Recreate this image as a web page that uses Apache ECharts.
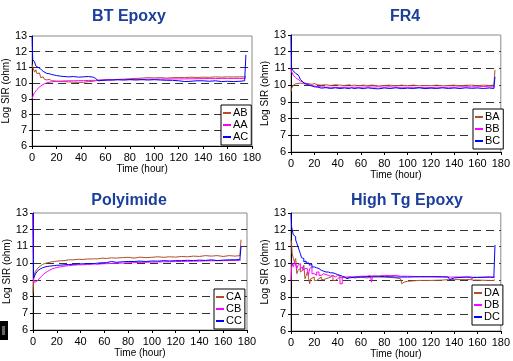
<!DOCTYPE html>
<html><head><meta charset="utf-8">
<script src="https://cdn.jsdelivr.net/npm/echarts@6/dist/echarts.min.js"></script>
<style>html,body{margin:0;padding:0;background:#fff}#c{width:513px;height:361px}</style>
</head><body><div id="c"></div>
<script>
// ---------- data ----------
const panelTitles = ['BT Epoxy', 'FR4', 'Polyimide', 'High Tg Epoxy'];
const xAxisName = 'Time (hour)';
const yAxisName = 'Log SIR (ohm)';
const xMin = 0, xMax = 180, xStep = 20;
const yMin = 6, yMax = 13, yStep = 1;

const hoursABC = [0,0.5,1,2,3,4,5,6,7,8,9,10,12,14,16,18,20,23,26,30,34,38,42,46,50,52,54,58,62,66,70,75,80,85,90,95,100,105,110,115,120,125,130,135,140,145,150,155,160,165,170,174,175];

// BT Epoxy
const AB = [11.2,11.0,10.9,10.7,10.85,10.6,10.5,10.65,10.35,10.3,10.4,10.25,10.2,10.25,10.15,10.15,10.12,10.1,10.1,10.08,10.06,10.05,10.05,10.1,10.12,10.15,10.18,10.2,10.22,10.22,10.24,10.25,10.28,10.3,10.32,10.35,10.33,10.35,10.32,10.35,10.36,10.35,10.38,10.36,10.38,10.37,10.4,10.38,10.4,10.39,10.4,10.4,10.45];
const AA = [9.0,9.1,9.25,9.4,9.5,9.6,9.68,9.75,9.82,9.87,9.92,9.96,10.02,10.06,10.08,10.1,10.12,10.13,10.14,10.15,10.15,10.16,10.16,10.17,10.18,10.18,10.19,10.2,10.2,10.21,10.22,10.22,10.23,10.24,10.24,10.25,10.25,10.26,10.26,10.27,10.27,10.27,10.28,10.28,10.29,10.29,10.29,10.3,10.3,10.3,10.3,10.3,10.35];
const AC = [13.0,11.5,11.4,11.35,11.1,11.05,11.0,10.95,10.9,10.85,10.75,10.65,10.62,10.6,10.55,10.52,10.48,10.45,10.42,10.4,10.42,10.38,10.4,10.42,10.38,10.3,10.15,10.18,10.2,10.2,10.22,10.2,10.22,10.2,10.22,10.2,10.22,10.2,10.18,10.18,10.15,10.1,10.12,10.15,10.15,10.12,10.15,10.1,10.12,10.1,10.12,10.15,11.8];

// FR4
const BA = [9.6,9.8,9.9,10.0,10.05,10.08,10.1,10.1,10.12,10.12,10.1,10.1,10.08,10.1,10.08,10.05,10.1,10.02,10.0,10.02,9.98,10.02,10.0,9.98,10.02,9.98,10.0,9.97,10.0,9.98,10.0,9.95,9.98,10.0,9.96,10.0,9.97,10.0,9.96,9.98,9.97,10.0,9.96,9.98,10.0,9.97,9.99,10.0,9.97,10.0,9.98,10.0,10.9];
const BB = [11.0,10.8,10.7,10.6,10.5,10.45,10.4,10.35,10.3,10.25,10.2,10.18,10.12,10.08,10.02,9.98,9.95,9.92,9.9,9.88,9.87,9.87,9.86,9.88,9.87,9.88,9.88,9.87,9.88,9.9,9.88,9.9,9.88,9.9,9.88,9.87,9.88,9.87,9.86,9.87,9.86,9.88,9.87,9.88,9.88,9.9,9.9,9.9,9.9,9.92,9.9,9.9,9.9];
const BC = [13.0,11.0,10.95,10.85,10.75,10.7,10.6,10.62,10.5,10.35,10.25,10.2,10.08,10.05,9.98,9.95,9.9,9.88,9.82,9.85,9.8,9.84,9.8,9.83,9.79,9.84,9.8,9.83,9.79,9.84,9.8,9.78,9.83,9.8,9.84,9.79,9.82,9.8,9.84,9.79,9.82,9.8,9.84,9.8,9.83,9.8,9.84,9.81,9.83,9.8,9.83,9.8,10.5];

// Polyimide
const CA = [8.2,9.0,9.3,9.5,9.6,9.7,9.78,9.82,9.88,9.92,9.95,9.98,10.02,10.05,10.08,10.1,10.12,10.14,10.15,10.2,10.2,10.23,10.22,10.25,10.25,10.26,10.25,10.3,10.28,10.32,10.3,10.33,10.35,10.3,10.36,10.33,10.35,10.38,10.35,10.38,10.36,10.4,10.38,10.42,10.4,10.45,10.42,10.45,10.4,10.45,10.42,10.45,11.4];
const CB = [13.0,9.0,8.85,8.8,8.9,9.0,9.05,9.1,9.2,9.28,9.35,9.4,9.5,9.58,9.65,9.7,9.74,9.78,9.82,9.85,9.88,9.9,9.9,9.92,9.93,9.95,9.93,9.96,9.97,9.98,10.0,10.0,10.02,10.03,10.05,10.05,10.06,10.07,10.08,10.08,10.1,10.1,10.11,10.12,10.12,10.14,10.14,10.15,10.15,10.16,10.16,10.17,10.2];
const CC = [13.0,9.1,9.2,9.35,9.45,9.55,9.6,9.65,9.7,9.72,9.75,9.77,9.8,9.82,9.84,9.85,9.87,9.88,9.9,9.92,9.93,9.95,9.96,9.97,9.98,9.98,10.0,10.02,10.03,10.1,10.05,10.08,10.1,10.1,10.12,10.1,10.13,10.12,10.15,10.13,10.15,10.15,10.17,10.15,10.18,10.16,10.2,10.15,10.18,10.2,10.2,10.22,11.0];

// High Tg Epoxy
const hoursD = [0,0.5,1,2,3,4,5,6,7,8,9,10,11,12,13,14,15,16,17,18,20,22,24,26,28,30,32,34,36,38,40,42,44,46,48,50,55,60,65,68,69,70,75,80,85,90,94,95,96,97,100,110,120,130,135,136,137,140,150,154,155,156,160,170,174,175];
const DA = [11.4,11.2,10.6,10.3,10.1,10.3,9.4,9.6,9.7,9.5,9.6,9.5,9.9,9.1,9.3,9.5,9.2,8.8,9.1,9.2,9.0,9.1,9.2,9.05,9.1,9.15,9.2,9.3,9.0,9.1,9.2,9.15,9.2,9.15,9.2,9.15,9.2,9.15,9.18,9.2,9.2,9.2,9.2,9.18,9.15,9.1,9.05,8.8,8.9,8.95,9.0,9.0,9.02,9.05,9.05,9.05,9.05,9.05,9.05,9.0,9.02,9.02,9.0,9.0,9.0,9.05];
const DB = [9.0,9.8,10.0,9.8,10.1,9.9,9.7,9.9,10.0,9.7,9.8,9.6,9.7,9.8,9.7,9.8,9.3,9.7,9.8,9.4,9.3,9.5,9.3,9.4,9.35,9.3,9.25,9.3,9.2,9.3,9.25,8.8,9.2,9.2,9.22,9.2,9.25,9.25,9.28,9.25,8.9,9.25,9.3,9.28,9.3,9.25,9.28,9.25,9.25,9.25,9.22,9.22,9.2,9.2,9.2,9.2,9.2,9.2,9.18,9.18,9.05,9.18,9.2,9.2,9.2,9.2];
const DC = [13.0,12.2,12.0,11.7,11.6,11.4,11.2,11.0,10.8,10.6,10.35,10.3,10.1,10.15,10.0,10.05,9.95,9.9,9.95,9.8,9.75,9.7,9.6,9.55,9.5,9.5,9.45,9.45,9.4,9.35,9.3,9.25,9.2,9.1,9.15,9.2,9.2,9.22,9.25,9.25,9.25,9.25,9.22,9.22,9.2,9.2,9.2,9.2,9.2,9.2,9.22,9.22,9.22,9.2,9.15,9.05,9.15,9.2,9.2,9.18,9.18,9.18,9.2,9.18,9.15,11.1];

const panelSeries = [
  {hours: hoursABC, names: ['AB','AA','AC'], values: [AB, AA, AC]},
  {hours: hoursABC, names: ['BA','BB','BC'], values: [BA, BB, BC]},
  {hours: hoursABC, names: ['CA','CB','CC'], values: [CA, CB, CC]},
  {hours: hoursD,   names: ['DA','DB','DC'], values: [DA, DB, DC]}
];
const seriesColors = ['#B0502A', '#FF00FF', '#0000FF'];

// ---------- layout ----------
const FONT = 'Liberation Sans, Arial, sans-serif';
const layout = [
  {grid:{left:31, top:36, width:221, height:110}, title:{x:124, y:4},  legend:{left:221, top:105}},
  {grid:{left:291, top:35, width:212, height:117}, title:{x:400, y:4}, legend:{left:473, top:109}},
  {grid:{left:33, top:213, width:214, height:117}, title:{x:124, y:188}, legend:{left:214, top:289}},
  {grid:{left:291, top:213, width:212, height:118}, title:{x:402, y:188}, legend:{left:472, top:285}}
];

const grids = [], xAxes = [], yAxes = [], titles = [], legends = [], series = [];
layout.forEach((L, i) => {
  grids.push(Object.assign({show:true, borderColor:'#8a8a8a', borderWidth:1, backgroundColor:'#fff'}, L.grid));
  titles.push({text: panelTitles[i], left: L.title.x, top: L.title.y, textAlign:'center',
    textStyle:{fontFamily:FONT, fontSize:16, fontWeight:'bold', color:'#1B3F9B'}});
  xAxes.push({type:'value', gridIndex:i, min:xMin, max:xMax, interval:xStep,
    name:xAxisName, nameLocation:'middle', nameGap:17,
    nameTextStyle:{fontFamily:FONT, fontSize:10, color:'#000'},
    axisLine:{show:true, lineStyle:{color:'#000', width:1}},
    axisTick:{show:true, length:3, lineStyle:{color:'#000'}},
    axisLabel:{fontFamily:FONT, fontSize:11, color:'#000', margin:6},
    splitLine:{show:false}});
  yAxes.push({type:'value', gridIndex:i, min:yMin, max:yMax, interval:yStep,
    name:yAxisName, nameLocation:'middle', nameGap:14,
    nameTextStyle:{fontFamily:FONT, fontSize:10, color:'#000'},
    axisLine:{show:true, lineStyle:{color:'#000', width:1}},
    axisTick:{show:true, length:3, lineStyle:{color:'#000'}},
    axisLabel:{fontFamily:FONT, fontSize:11, color:'#000', margin:5},
    splitLine:{show:true, showMinLine:false, showMaxLine:false, lineStyle:{color:'#333', width:1, type:[8,5]}}});
  const P = panelSeries[i];
  legends.push({data: P.names, orient:'vertical', left:L.legend.left, top:L.legend.top,
    backgroundColor:'#fff', borderColor:'#000', borderWidth:1, padding:[2,3,2,2], itemGap:0,
    itemWidth:8, itemHeight:2, icon:'rect',
    textStyle:{fontFamily:FONT, fontSize:11, color:'#000', lineHeight:12, padding:[0,0,0,-3]}});
  P.names.forEach((nm, k) => {
    series.push({name:nm, type:'line', xAxisIndex:i, yAxisIndex:i,
      data: P.hours.map((h, j) => [h, P.values[k][j]]),
      showSymbol:false, symbol:'none', step: i === 3 ? 'end' : false,
      lineStyle:{width:1, color:seriesColors[k]}, itemStyle:{color:seriesColors[k]},
      animation:false, z: 2 + k});
  });
});

const chart = echarts.init(document.getElementById('c'), null, {renderer:'canvas'});
chart.setOption({
  backgroundColor:'#fff', animation:false,
  title: titles, grid: grids, xAxis: xAxes, yAxis: yAxes, legend: legends, series: series,
  graphic: [
    {type:'rect', left:0, top:321, shape:{width:8, height:19}, style:{fill:'#000'}},
    {type:'rect', left:2, top:326, shape:{width:3, height:9}, style:{fill:'#666'}}
  ]
});
</script></body></html>
